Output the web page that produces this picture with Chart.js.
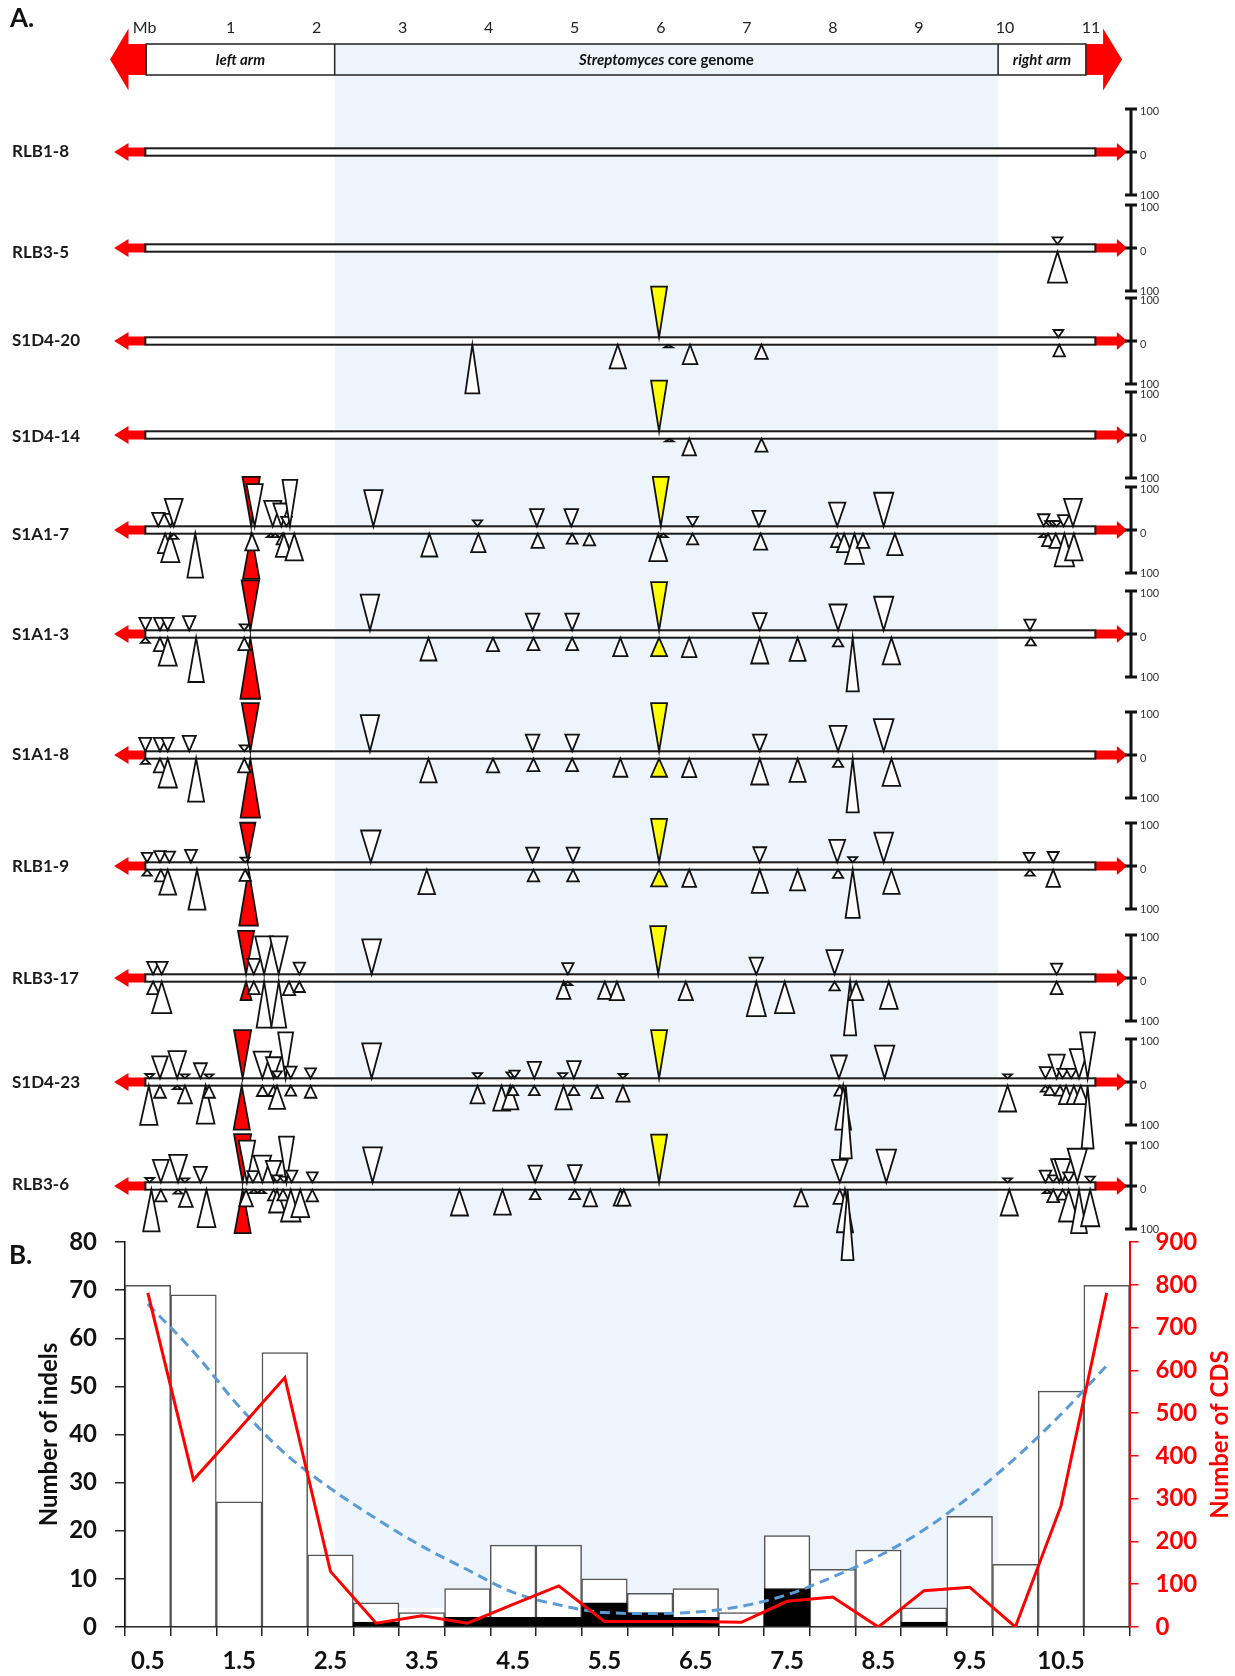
<!DOCTYPE html>
<html>
<head>
<meta charset="utf-8">
<script src="https://cdn.jsdelivr.net/npm/chart.js@4.4.1/dist/chart.umd.min.js"></script>
<style>
  html, body { margin: 0; padding: 0; background: #fff; }
  #wrap { position: relative; width: 1235px; height: 1676px; overflow: hidden; }
  #chartA { position: absolute; left: 0; top: 0; }
  #chartB { position: absolute; left: 0; top: 1225px; }
</style>
</head>
<body>
<div id="wrap">
  <canvas id="chartA" width="1235" height="1676"></canvas>
  <canvas id="chartB" width="1235" height="451"></canvas>
</div>
<script>
// ---------- A. genome map ----------
const headerTicks = [0, 1, 2, 3, 4, 5, 6, 7, 8, 9, 10, 11];
const headerTickLabels = ['Mb', '1', '2', '3', '4', '5', '6', '7', '8', '9', '10', '11'];
const armEdges = [0.02, 2.21, 9.92, 10.94]; // left arm | core genome | right arm (Mb)
const trackSpan = [0.01, 11.05];
const trackNames = ['RLB1-8', 'RLB3-5', 'S1D4-20', 'S1D4-14', 'S1A1-7', 'S1A1-3', 'S1A1-8', 'RLB1-9', 'RLB3-17', 'S1D4-23', 'RLB3-6'];

// indels: [position Mb, size (+ above / - below, scale 0-100), class (1 yellow, 2 red)]
const RLB1_8 = [];
const RLB3_5 = [[10.61, 16], [10.61, -72]];
const S1D4_20 = [[5.98, 118, 1], [3.81, -113], [5.50, -55], [6.09, -6], [6.34, -45], [7.17, -33], [10.62, 17], [10.63, -27]];
const S1D4_14 = [[5.98, 118, 1], [6.10, -6], [6.33, -39], [7.17, -30]];
const S1A1_7 = [
  [1.24, 115, 2], [0.16, 31], [0.30, 29], [0.34, 64], [1.28, 98], [1.49, 59], [1.59, 53], [1.65, 22], [1.69, 108],
  [2.66, 84], [3.87, 14], [4.56, 40], [4.96, 40], [6.00, 115, 1], [6.37, 22], [7.14, 36], [8.05, 55], [8.59, 78],
  [10.45, 28], [10.52, 12], [10.56, 12], [10.60, 12], [10.68, 26], [10.79, 64],
  [1.24, -105, 2], [0.24, -45], [0.30, -66], [0.34, -12], [0.59, -102], [1.25, -39], [1.47, -8], [1.52, -8],
  [1.60, -25], [1.62, -54], [1.74, -62], [3.31, -53], [3.88, -43], [4.57, -33], [4.97, -23], [5.17, -27],
  [5.97, -64], [6.03, -8], [6.37, -25], [7.16, -37], [8.05, -31], [8.13, -43], [8.25, -70], [8.35, -33],
  [8.72, -50], [10.45, -8], [10.50, -29], [10.59, -33], [10.69, -76], [10.80, -62]
];
const S1A1_3 = [
  [1.23, 116, 2], [0.01, 29], [0.18, 29], [0.27, 29], [0.52, 33], [1.16, 14], [2.62, 83], [4.51, 39], [4.97, 39],
  [5.98, 112, 1], [7.15, 40], [8.06, 60], [8.59, 78], [10.29, 25],
  [1.23, -142, 2], [0.01, -12], [0.18, -31], [0.27, -65], [0.60, -103], [1.16, -29], [3.30, -53], [4.05, -31],
  [4.52, -29], [4.97, -29], [5.53, -43], [5.98, -43, 1], [6.33, -45], [7.15, -60], [7.59, -54], [8.06, -20],
  [8.23, -125], [8.68, -62], [10.30, -18]
];
const S1A1_8 = [
  [1.23, 112, 2], [0.01, 31], [0.18, 31], [0.27, 31], [0.52, 36], [1.16, 14], [2.62, 84], [4.51, 39], [4.97, 39],
  [5.98, 112, 1], [7.15, 39], [8.06, 59], [8.59, 75],
  [1.23, -137, 2], [0.01, -12], [0.18, -32], [0.27, -67], [0.60, -100], [1.16, -32], [3.30, -55], [4.05, -32],
  [4.52, -29], [4.97, -29], [5.53, -42], [5.98, -42, 1], [6.33, -43], [7.15, -60], [7.59, -54], [8.06, -19],
  [8.23, -125], [8.68, -63]
];
const RLB1_9 = [
  [1.20, 92, 2], [0.03, 22], [0.18, 26], [0.29, 25], [0.54, 29], [1.17, 11], [2.63, 74], [4.51, 34], [4.98, 34],
  [5.98, 101, 1], [7.15, 35], [8.05, 52], [8.23, 12], [8.59, 69], [10.28, 22], [10.56, 24],
  [1.21, -130, 2], [0.03, -14], [0.19, -27], [0.27, -58], [0.61, -93], [1.17, -26], [3.28, -57], [4.52, -27],
  [4.98, -27], [5.98, -39, 1], [6.33, -40], [7.15, -54], [7.59, -48], [8.06, -19], [8.23, -112], [8.68, -56],
  [10.29, -14], [10.56, -40]
];
const RLB3_17 = [
  [1.18, 101, 2], [0.10, 29], [0.20, 29], [1.27, 36], [1.39, 88], [1.56, 88], [1.80, 27], [2.64, 81], [4.92, 26],
  [5.97, 112, 1], [7.11, 39], [8.02, 56], [10.60, 25],
  [1.18, -43, 2], [0.10, -29], [0.20, -73], [1.27, -29], [1.39, -107], [1.56, -107], [1.68, -31], [1.80, -24],
  [4.87, -40], [4.92, -8], [5.35, -40], [5.49, -43], [6.29, -43], [7.11, -80], [7.44, -73], [8.02, -20],
  [8.20, -125], [8.27, -43], [8.65, -63], [10.60, -29]
];
const S1D4_23 = [
  [1.14, 112, 2], [0.06, 10], [0.18, 51], [0.38, 63], [0.47, 9], [0.65, 35], [0.75, 9], [1.37, 62], [1.50, 49],
  [1.54, 16], [1.64, 107], [1.70, 27], [1.93, 23], [2.64, 81], [3.87, 12], [4.26, 14], [4.30, 18], [4.53, 38],
  [4.86, 12], [4.99, 40], [5.56, 10], [5.98, 112, 1], [8.07, 53], [8.60, 76], [10.03, 9], [10.47, 26],
  [10.60, 55], [10.67, 22], [10.77, 22], [10.86, 68], [10.96, 107],
  [1.13, -102, 2], [0.05, -91], [0.18, -28], [0.38, -8], [0.47, -41], [0.71, -88], [0.75, -28], [1.37, -24],
  [1.50, -24], [1.54, -54], [1.70, -23], [1.93, -28], [3.87, -41], [4.15, -58], [4.25, -55], [4.28, -22],
  [4.53, -22], [4.87, -55], [4.99, -22], [5.26, -29], [5.56, -37], [8.08, -23], [8.12, -102], [8.15, -169],
  [10.03, -60], [10.47, -14], [10.52, -22], [10.64, -23], [10.71, -43], [10.80, -43], [10.88, -43], [10.96, -146]
];
const RLB3_6 = [
  [1.14, 112, 2], [0.06, 10], [0.19, 52], [0.39, 64], [0.47, 9], [0.65, 36], [1.19, 97], [1.26, 26], [1.37, 62],
  [1.50, 50], [1.54, 16], [1.62, 13], [1.65, 106], [1.71, 27], [1.95, 23], [2.65, 81], [4.54, 39], [5.00, 40],
  [5.98, 111, 1], [8.08, 52], [8.62, 76], [10.03, 9], [10.47, 27], [10.56, 16], [10.63, 54], [10.67, 54],
  [10.74, 23], [10.84, 78], [10.99, 13],
  [1.14, -101, 2], [0.08, -97], [0.19, -27], [0.39, -9], [0.48, -40], [0.72, -87], [1.18, -39], [1.27, -8],
  [1.36, -8], [1.50, -25], [1.54, -53], [1.61, -25], [1.70, -74], [1.81, -64], [1.95, -27], [3.66, -60],
  [4.16, -58], [4.54, -22], [5.00, -22], [5.18, -39], [5.53, -37], [5.57, -37], [7.63, -39], [8.08, -33],
  [8.14, -99], [8.17, -164], [10.05, -60], [10.49, -8], [10.56, -29], [10.67, -23], [10.74, -74], [10.86, -101],
  [10.99, -85]
];
const trackIndels = [RLB1_8, RLB3_5, S1D4_20, S1D4_14, S1A1_7, S1A1_3, S1A1_8, RLB1_9, RLB3_17, S1D4_23, RLB3_6];

// ---------- B. indel / CDS histogram ----------
const binLabels = ['0.5', '1.0', '1.5', '2.0', '2.5', '3.0', '3.5', '4.0', '4.5', '5.0', '5.5',
                   '6.0', '6.5', '7.0', '7.5', '8.0', '8.5', '9.0', '9.5', '10.0', '10.5', '11.0'];
const indelsAll = [71, 69, 26, 57, 15, 5, 3, 8, 17, 17, 10, 7, 8, 3, 19, 12, 16, 4, 23, 13, 49, 71];
const indelsBlack = [0, 0, 0, 0, 0, 1, 0, 2, 2, 2, 5, 3, 2, 0, 8, 0, 0, 1, 0, 0, 0, 0];
const cdsCount = [781, 344, 463, 583, 130, 9, 26, 9, 53, 96, 13, 13, 13, 11, 60, 70, 0, 85, 93, 0, 283, 781];
const indelTrend = [67.1, 57.2, 45.8, 36.1, 28.8, 22.5, 16.8, 11.9, 7.2, 4.6, 3.0, 2.8, 3.1, 4.3, 6.7, 10.4,
                    14.7, 20.2, 27.1, 35.1, 44.2, 54.3];

// ---------- layout ----------
Chart.defaults.font.family = 'Lato, "Open Sans", sans-serif';
const K = 0.43;          // px per size unit (100 = 43 px)
const TOP = 40;          // header tick row height
const TRACK_Y = [152, 248, 341, 435, 530, 634, 755, 866, 978, 1082, 1186];
const LABEL_DY = [0, 5, 0, 2, 5, 1, 0, 1, 1, 1, -1];
const BAR_HALF = 3.7;
const BAND = '#edf4fb';
const RED = '#ff0000';

function triWidth(h, cls) {
  if (cls === 1) return 16;
  if (cls === 2) return 7 + 0.09 * h;
  if (h <= 75) return 7 + 0.17 * h;
  return Math.max(12, 19.75 - (h - 75) * 0.15);
}

function arrow(ctx, xBase, xHead, xTip, yc, shaft, head) {
  ctx.beginPath();
  ctx.moveTo(xBase, yc - shaft);
  ctx.lineTo(xHead, yc - shaft);
  ctx.lineTo(xHead, yc - head);
  ctx.lineTo(xTip, yc);
  ctx.lineTo(xHead, yc + head);
  ctx.lineTo(xHead, yc + shaft);
  ctx.lineTo(xBase, yc + shaft);
  ctx.closePath();
  ctx.fill();
}

const mapPlugin = {
  id: 'genomeMap',
  beforeDraw(chart) {
    const ctx = chart.ctx, x = chart.scales.x, y = chart.scales.y;
    const l = x.getPixelForValue(armEdges[1]), r = x.getPixelForValue(armEdges[2]);
    const t = y.getPixelForValue(44 / K), b = y.getPixelForValue(1608 / K);
    ctx.save();
    ctx.fillStyle = BAND;
    ctx.fillRect(l, t, r - l, b - t);
    ctx.restore();
  },
  beforeDatasetsDraw(chart) {
    const ctx = chart.ctx, x = chart.scales.x;
    ctx.save();
    // panel letters
    ctx.fillStyle = '#111';
    ctx.font = 'bold 26px Lato';
    ctx.textBaseline = 'middle';
    ctx.textAlign = 'left';
    ctx.fillText('A.', 10, 19);
    ctx.fillText('B.', 9, 1256);

    // header chromosome
    const e = armEdges.map(v => x.getPixelForValue(v));
    const hy = 59.5;
    ctx.fillStyle = RED;
    arrow(ctx, e[0], x.getPixelForValue(-0.186), x.getPixelForValue(-0.40), hy, 15.5, 31);
    arrow(ctx, e[3], x.getPixelForValue(11.14), x.getPixelForValue(11.36), hy, 15.5, 31);
    ctx.fillStyle = '#fff';
    ctx.fillRect(e[0], 44, e[1] - e[0], 31);
    ctx.fillRect(e[2], 44, e[3] - e[2], 31);
    ctx.strokeStyle = '#222';
    ctx.lineWidth = 1.5;
    ctx.strokeRect(e[0], 44, e[3] - e[0], 31);
    ctx.beginPath();
    ctx.moveTo(e[1], 44); ctx.lineTo(e[1], 75);
    ctx.moveTo(e[2], 44); ctx.lineTo(e[2], 75);
    ctx.stroke();
    ctx.fillStyle = '#111';
    ctx.textAlign = 'center';
    ctx.font = 'italic bold 15px Lato';
    ctx.fillText('left arm', (e[0] + e[1]) / 2, hy + 1);
    ctx.fillText('right arm', (e[2] + e[3]) / 2, hy + 1);
    ctx.textAlign = 'left';
    const w1 = (ctx.font = 'italic bold 15px Lato', ctx.measureText('Streptomyces ').width);
    const w2 = (ctx.font = 'bold 15px Lato', ctx.measureText('core genome').width);
    const sx = (e[1] + e[2]) / 2 - (w1 + w2) / 2;
    ctx.font = 'italic bold 15px Lato';
    ctx.fillText('Streptomyces ', sx, hy + 1);
    ctx.font = 'bold 15px Lato';
    ctx.fillText('core genome', sx + w1, hy + 1);

    // tracks
    const bx0 = x.getPixelForValue(trackSpan[0]), bx1 = x.getPixelForValue(trackSpan[1]);
    TRACK_Y.forEach((ty, i) => {
      ctx.fillStyle = RED;
      arrow(ctx, bx0, x.getPixelForValue(-0.186), x.getPixelForValue(-0.354), ty, 4.5, 9);
      arrow(ctx, bx1, x.getPixelForValue(11.30), x.getPixelForValue(11.42), ty, 4.5, 9);
      ctx.fillStyle = '#fff';
      ctx.fillRect(bx0, ty - BAR_HALF, bx1 - bx0, BAR_HALF * 2);
      ctx.strokeStyle = '#1a1a1a';
      ctx.lineWidth = 2;
      ctx.strokeRect(bx0, ty - BAR_HALF, bx1 - bx0, BAR_HALF * 2);

      ctx.fillStyle = '#1a1a1a';
      ctx.font = 'bold 17px Lato';
      ctx.textAlign = 'left';
      ctx.fillText(trackNames[i], 12, ty + LABEL_DY[i]);

      // size scale bar
      const sx0 = 1131, d = 100 * K;
      ctx.strokeStyle = '#111';
      ctx.lineWidth = 3;
      ctx.beginPath();
      ctx.moveTo(sx0, ty - d); ctx.lineTo(sx0, ty + d);
      [-d, 0, d].forEach(o => { ctx.moveTo(sx0 - 6, ty + o); ctx.lineTo(sx0 + 6, ty + o); });
      ctx.stroke();
      ctx.fillStyle = '#333';
      ctx.font = '11px Lato';
      ctx.fillText('100', 1140, ty - d + 2);
      ctx.fillText('0', 1140, ty + 3);
      ctx.fillText('100', 1140, ty + d);
    });
    ctx.restore();
  },
  afterDatasetsDraw(chart) {
    const ctx = chart.ctx, y = chart.scales.y;
    ctx.save();
    ctx.lineJoin = 'miter';
    ctx.lineWidth = 1.8;
    ctx.strokeStyle = '#111';
    chart.data.datasets.forEach((ds, di) => {
      const meta = chart.getDatasetMeta(di);
      meta.data.forEach((el, j) => {
        const d = ds.data[j];
        const h = Math.abs(d.size);
        const apex = y.getPixelForValue((TRACK_Y[d.track] - Math.sign(d.size) * BAR_HALF) / K);
        const w = triWidth(h, d.cls);
        ctx.beginPath();
        ctx.moveTo(el.x, apex);
        ctx.lineTo(el.x - w / 2, el.y);
        ctx.lineTo(el.x + w / 2, el.y);
        ctx.closePath();
        ctx.fillStyle = d.cls === 1 ? '#ffff00' : d.cls === 2 ? RED : '#fff';
        ctx.fill();
        ctx.stroke();
      });
    });
    ctx.restore();
  }
};

const datasetsA = trackIndels.map((list, t) => ({
  label: trackNames[t],
  data: list.map(([pos, size, cls]) => ({
    x: pos,
    y: (TRACK_Y[t] - Math.sign(size) * (BAR_HALF + Math.abs(size) * K)) / K,
    size: size,
    cls: cls || 0,
    track: t
  })),
  pointRadius: 0,
  showLine: false
}));

new Chart(document.getElementById('chartA'), {
  type: 'scatter',
  data: { datasets: datasetsA },
  options: {
    responsive: false,
    animation: false,
    layout: { padding: 0 },
    plugins: { legend: { display: false }, tooltip: { enabled: false } },
    scales: {
      x: {
        type: 'linear',
        position: 'top',
        min: -144.5 / 86.05,
        max: (1235 - 144.5) / 86.05,
        grid: { display: false, drawTicks: false },
        border: { display: false },
        afterBuildTicks: s => { s.ticks = headerTicks.map(v => ({ value: v })); },
        afterFit: s => { s.height = TOP; },
        ticks: {
          autoSkip: false, maxRotation: 0, padding: 3, color: '#222',
          font: { size: 16 },
          callback: (v, i) => headerTickLabels[i]
        }
      },
      y: { type: 'linear', display: false, reverse: true, min: TOP / K, max: 1676 / K }
    }
  },
  plugins: [mapPlugin]
});

// ---------- chart B ----------
const cdsTitle = {
  id: 'cdsTitle',
  afterDraw(chart) {
    const ctx = chart.ctx, a = chart.chartArea;
    ctx.save();
    ctx.translate(1220, (a.top + a.bottom) / 2);
    ctx.rotate(-Math.PI / 2);
    ctx.fillStyle = RED;
    ctx.font = 'bold 24px Lato';
    ctx.textAlign = 'center';
    ctx.textBaseline = 'middle';
    ctx.fillText('Number of CDS', 0, 0);
    ctx.restore();
  }
};

new Chart(document.getElementById('chartB'), {
  type: 'bar',
  data: {
    labels: binLabels,
    datasets: [
      { type: 'line', data: cdsCount, yAxisID: 'y1', borderColor: RED, borderWidth: 3,
        pointRadius: 0, tension: 0, order: 0 },
      { type: 'line', data: indelTrend, yAxisID: 'y', borderColor: '#5b9bd5', borderWidth: 3,
        borderDash: [10, 6], pointRadius: 0, cubicInterpolationMode: 'monotone', order: 1 },
      { type: 'bar', data: indelsBlack, yAxisID: 'y', backgroundColor: '#000', borderColor: '#000',
        borderWidth: 1, grouped: false, barPercentage: 1, categoryPercentage: 1, order: 2 },
      { type: 'bar', data: indelsAll, yAxisID: 'y', backgroundColor: '#fff', borderColor: '#555',
        borderWidth: 1.5, grouped: false, barPercentage: 1, categoryPercentage: 1, order: 3 }
    ]
  },
  options: {
    responsive: false,
    animation: false,
    layout: { padding: { top: 17, left: 0, right: 0, bottom: 0 } },
    plugins: { legend: { display: false }, tooltip: { enabled: false } },
    scales: {
      x: {
        grid: { display: true, drawOnChartArea: false, drawTicks: true, tickLength: 9,
                color: '#222', lineWidth: 1.5, offset: true },
        border: { color: '#111', width: 1.5 },
        afterFit: s => { s.height = 49; },
        ticks: {
          autoSkip: false, maxRotation: 0, padding: 11, color: '#111',
          font: { size: 24, weight: 'bold' },
          callback: (v, i) => (i % 2 === 0 ? binLabels[i] : '')
        }
      },
      y: {
        position: 'left', min: 0, max: 80,
        grid: { drawOnChartArea: false, tickLength: 10, color: '#222', lineWidth: 1.5 },
        border: { color: '#111', width: 1.5 },
        afterFit: s => { s.width = 125; s.paddingTop = 0; s.paddingBottom = 0; },
        ticks: { stepSize: 10, padding: 18, color: '#111', font: { size: 24, weight: 'bold' } },
        title: { display: true, text: 'Number of indels', color: '#111',
                 font: { size: 24, weight: 'bold' }, padding: { top: 35, bottom: 0 } }
      },
      y1: {
        position: 'right', min: 0, max: 900,
        grid: { drawOnChartArea: false, tickLength: 9, color: RED, lineWidth: 1.5 },
        border: { color: RED, width: 2 },
        afterFit: s => { s.width = 105.5; s.paddingTop = 0; s.paddingBottom = 0; },
        ticks: { stepSize: 100, padding: 17, color: RED, font: { size: 24, weight: 'bold' } }
      }
    }
  },
  plugins: [cdsTitle]
});
</script>
</body>
</html>
